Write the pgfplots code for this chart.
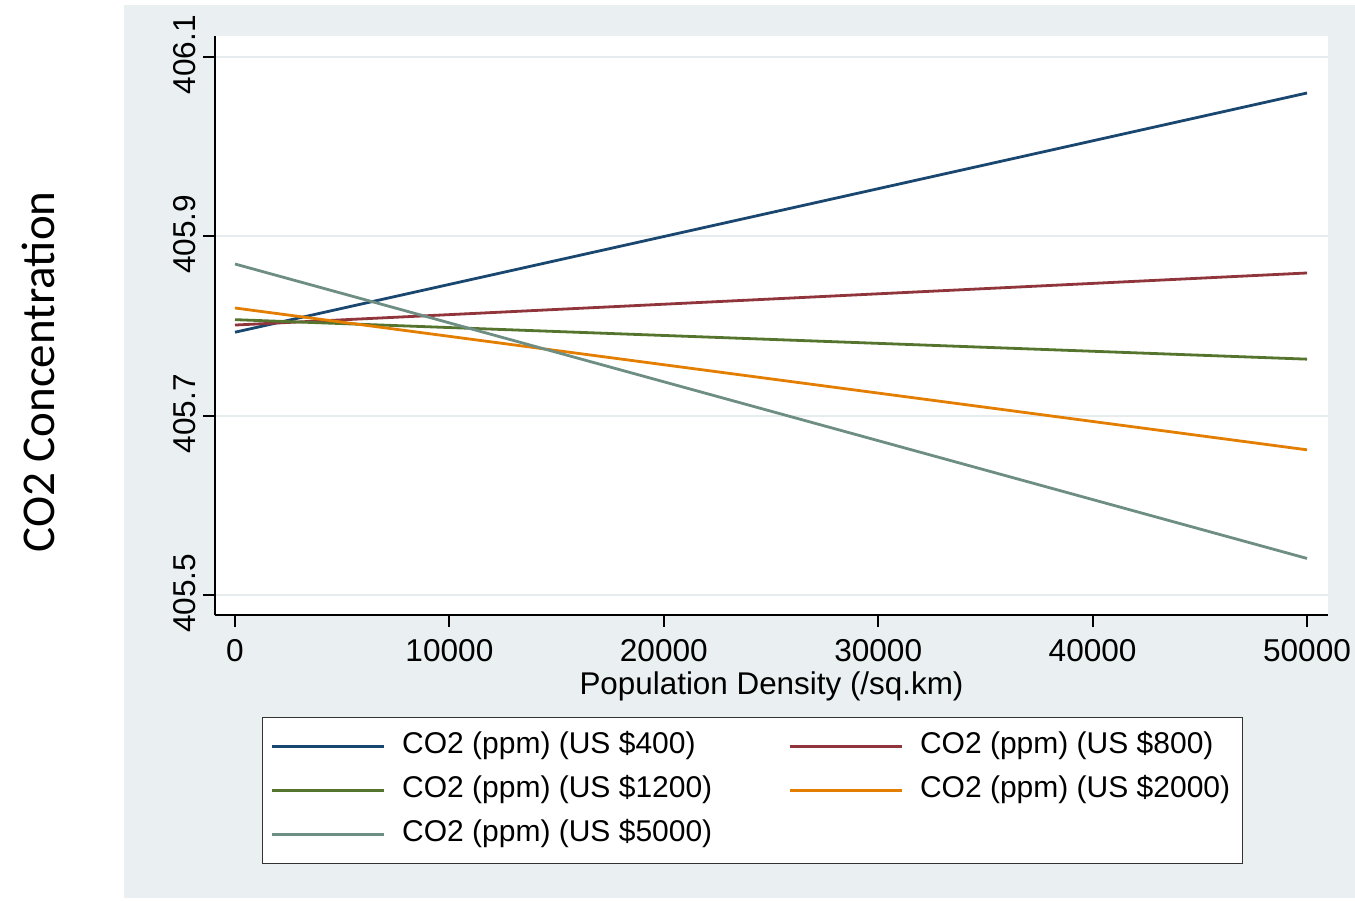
\documentclass[border=0pt]{standalone}
\usepackage{fontspec}
\setmainfont{Liberation Sans}
\newfontfamily\carlito{Carlito}
\usepackage{pgfplots}
\pgfplotsset{compat=1.18}
\definecolor{bgpanel}{RGB}{234,240,242}
\definecolor{gridc}{RGB}{230,236,238}
\definecolor{sNavy}{RGB}{26,71,111}
\definecolor{sMaroon}{RGB}{144,53,59}
\definecolor{sGreen}{RGB}{85,117,47}
\definecolor{sOrange}{RGB}{227,126,0}
\definecolor{sTeal}{RGB}{110,142,132}
\begin{document}
\begin{tikzpicture}
\useasboundingbox (0,0) rectangle (677.5pt,450pt);
\fill[bgpanel] (62pt,1pt) rectangle (677.5pt,447.5pt);
\node[rotate=90, font=\carlito\fontsize{23.5}{28}\selectfont] at (19pt,264pt) {CO2 Concentration};
\begin{axis}[
  scale only axis, width=556.5pt, height=289.5pt,
  at={(107.5pt,142.5pt)}, anchor=south west,
  xmin=-933, xmax=50979, ymin=405.478, ymax=406.123,
  axis x line*=bottom, axis y line*=left,
  axis line style={-, line width=1pt, black},
  axis background/.style={fill=white},
  xtick={0,10000,20000,30000,40000,50000},
  ytick={405.5,405.7,405.9,406.1},
  scaled x ticks=false, scaled y ticks=false,
  x tick label style={/pgf/number format/fixed, /pgf/number format/set thousands separator={}},
  y tick label style={/pgf/number format/fixed, /pgf/number format/precision=1, /pgf/number format/fixed zerofill},
  /pgf/number format/assume math mode=true,
  tick label style={font=\fontsize{15.8}{19}\selectfont},
  yticklabel style={rotate=90, anchor=south, xshift=1pt},
  xticklabel style={yshift=-2.5pt},
  tick align=outside, major tick length=6pt,
  tick style={black, line width=1pt},
  ymajorgrids, grid style={gridc, line width=1pt},
  xlabel={Population Density (/sq.km)},
  xlabel style={at={(axis description cs:0.5,0)}, anchor=center, yshift=-35.5pt, font=\fontsize{15.7}{19}\selectfont},
  legend columns=2, legend cell align=left,
  legend image code/.code={\draw[#1] (0pt,0pt) -- (56pt,0pt);},
  legend style={at={(axis description cs:0.0422,-0.176)}, anchor=north west,
    draw=black!80, font=\fontsize{15}{18}\selectfont,
    inner xsep=4pt, inner ysep=3.5pt, row sep=0pt,
    nodes={inner xsep=2pt, inner ysep=3.75pt, text height=11pt, text depth=3.5pt},
    /tikz/every odd column/.append style={column sep=6.5pt},
    /tikz/every even column/.append style={column sep=36pt}},
  every axis plot/.append style={line width=1.4pt},
]
\addplot[sNavy] coordinates {(0,405.793) (50000,406.0595)};
\addlegendentry{CO2 (ppm) (US \$400)}
\addplot[sMaroon] coordinates {(0,405.801) (50000,405.859)};
\addlegendentry{CO2 (ppm) (US \$800)}
\addplot[sGreen] coordinates {(0,405.807) (50000,405.763)};
\addlegendentry{CO2 (ppm) (US \$1200)}
\addplot[sOrange] coordinates {(0,405.820) (50000,405.662)};
\addlegendentry{CO2 (ppm) (US \$2000)}
\addplot[sTeal] coordinates {(0,405.869) (50000,405.541)};
\addlegendentry{CO2 (ppm) (US \$5000)}
\end{axis}
\end{tikzpicture}
\end{document}
